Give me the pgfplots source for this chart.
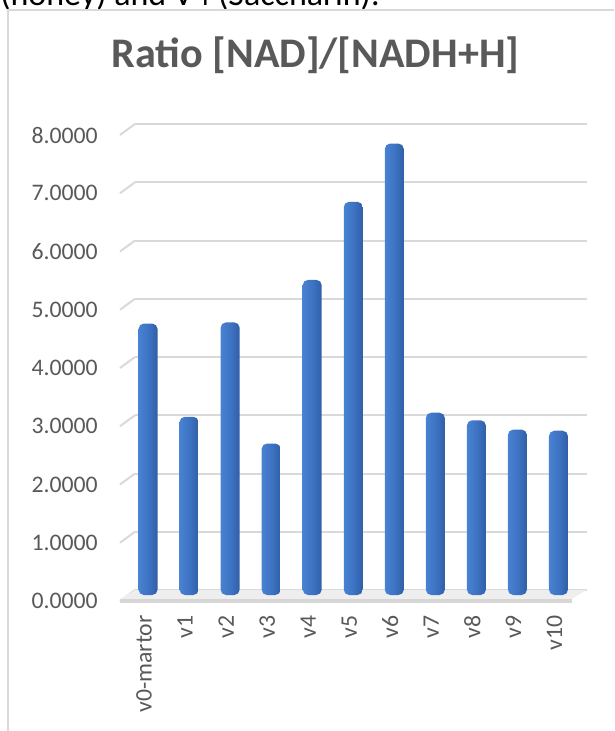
\documentclass[border=0pt]{standalone}
\usepackage{pgfplots}
\pgfplotsset{compat=1.18}
\usepackage{fontspec}
\setmainfont{Carlito}

\definecolor{gridc}{HTML}{D9D9D9}
\definecolor{tickc}{HTML}{595959}
\definecolor{floortop}{HTML}{EEEEEE}
\definecolor{flooredge}{HTML}{D6D6D6}
\definecolor{barA}{HTML}{3467B3}
\definecolor{barB}{HTML}{4A84D4}
\definecolor{barC}{HTML}{3B70BF}
\definecolor{barD}{HTML}{2B5699}
\definecolor{barE}{HTML}{1C3864}

% cylinder-like shading across each column
\pgfdeclarehorizontalshading{cylbar}{100bp}{%
  color(0bp)=(barA); color(22bp)=(barB); color(55bp)=(barC);
  color(85bp)=(barD); color(100bp)=(barE)}

\pgfplotsset{cyl/.style={draw=none, shading=cylbar, rounded corners=4pt,
  bar shift=0pt, forget plot}}

\begin{document}
\begin{tikzpicture}
\useasboundingbox (0,0) rectangle (460.5pt,-548.25pt);
\begin{scope}
\clip (0,0) rectangle (460.5pt,-548.25pt);

% running text above the chart frame
\node[anchor=base west, inner sep=0pt, font=\fontsize{25.5}{30}\selectfont]
  at (0pt,-4.5pt) {(honey) and V4 (Saccharin).};

% chart frame
\draw[gridc, line width=1.5pt] (6pt,-600pt) -- (6pt,-7.5pt) -- (470pt,-7.5pt);

% title
\node[anchor=base, inner sep=0pt, font=\fontsize{31.6}{36}\selectfont\bfseries, text=tickc]
  at (236.6pt,-51pt) {Ratio [NAD]/[NADH+H]};

% back wall with gridlines and value labels
\begin{axis}[
  at={(101.25pt,-442.5pt)}, anchor=south west, scale only axis,
  width=338.625pt, height=349.5pt,
  xmin=-0.5, xmax=10.5, ymin=0, ymax=8,
  ytick={0,...,8}, xtick=\empty,
  ymajorgrids, grid style={gridc, line width=1.5pt},
  axis line style={draw=none}, major tick length=0pt,
  yticklabel={\pgfmathprintnumber[fixed,fixed zerofill,precision=4,assume math mode=true]{\tick}},
  yticklabel style={font=\fontsize{17.8}{20}\selectfont, text=tickc, anchor=east,
    inner sep=0pt, xshift=-27.75pt, yshift=-8.25pt},
  clip=false,
]
\addplot[draw=none, forget plot] coordinates {(0,0)};
% side-wall stubs of the gridlines
\pgfplotsinvokeforeach{0,...,8}{
  \draw[gridc, line width=1.5pt] (axis cs:-0.5,#1) -- ++(-11.25pt,-8.25pt);
}
% floor slab
\fill[floortop] (axis cs:-0.5,0) -- (axis cs:10.5,0) -- ++(-11.25pt,-6.75pt)
  -- ([xshift=-11.25pt,yshift=-6.75pt]axis cs:-0.5,0) -- cycle;
\fill[flooredge] ([xshift=-11.25pt,yshift=-6.75pt]axis cs:-0.5,0)
  -- ([xshift=-11.25pt,yshift=-6.75pt]axis cs:10.5,0)
  -- ([xshift=-11.25pt,yshift=-9.5pt]axis cs:10.5,0)
  -- ([xshift=-11.25pt,yshift=-9.5pt]axis cs:-0.5,0) -- cycle;
\end{axis}

% columns, one path each so every column gets its own shading
\begin{axis}[
  at={(95.625pt,-446.25pt)}, anchor=south west, scale only axis,
  width=338.625pt, height=349.5pt,
  xmin=-0.5, xmax=10.5, ymin=0, ymax=8,
  ytick=\empty, xtick={0,...,10},
  xticklabels={v0-martor,v1,v2,v3,v4,v5,v6,v7,v8,v9,v10},
  axis line style={draw=none}, major tick length=0pt,
  xticklabel shift=15pt,
  xticklabel style={xshift=-3pt, rotate=90, anchor=east, inner sep=0pt,
    font=\fontsize{17.8}{20}\selectfont, text=tickc},
  ybar, bar width=14.25pt,
  clip=false,
]
\addplot[cyl] coordinates {(0,4.66)};
\addplot[cyl] coordinates {(1,3.06)};
\addplot[cyl] coordinates {(2,4.68)};
\addplot[cyl] coordinates {(3,2.60)};
\addplot[cyl] coordinates {(4,5.41)};
\addplot[cyl] coordinates {(5,6.75)};
\addplot[cyl] coordinates {(6,7.75)};
\addplot[cyl] coordinates {(7,3.13)};
\addplot[cyl] coordinates {(8,3.00)};
\addplot[cyl] coordinates {(9,2.84)};
\addplot[cyl] coordinates {(10,2.82)};
\end{axis}
\end{scope}
\end{tikzpicture}
\end{document}
